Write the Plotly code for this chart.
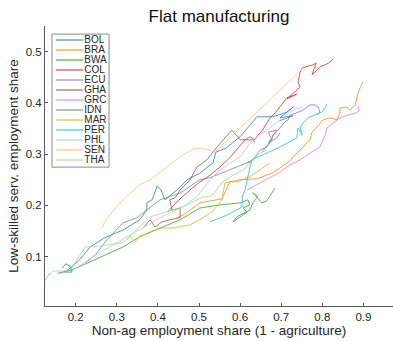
import plotly.graph_objects as go

# Country codes and line colours
countries = ["BOL", "BRA", "BWA", "COL", "ECU", "GHA", "GRC", "IDN", "MAR", "PER", "PHL", "SEN", "THA"]
colors = ["#1f77b4", "#ff7f0e", "#2ca02c", "#d62728", "#9467bd", "#8c564b", "#e377c2",
          "#7f7f7f", "#bcbd22", "#17becf", "#aec7e8", "#ffbb78", "#98df8a"]

# Non-ag employment share (x) and low-skilled services employment share (y) per country
bol_x = [0.167, 0.176, 0.186, 0.191, 0.171, 0.181, 0.210, 0.235, 0.271, 0.315, 0.356, 0.373, 0.373, 0.386, 0.393, 0.398,
         0.408, 0.417, 0.446, 0.471, 0.502, 0.534, 0.541, 0.566, 0.600, 0.641, 0.680, 0.714, 0.729, 0.697, 0.729, 0.695]
bol_y = [0.078, 0.086, 0.082, 0.070, 0.070, 0.074, 0.094, 0.119, 0.137, 0.152, 0.172, 0.191, 0.205, 0.211, 0.226, 0.238,
         0.230, 0.211, 0.230, 0.250, 0.263, 0.283, 0.304, 0.312, 0.334, 0.373, 0.373, 0.382, 0.392, 0.371, 0.375, 0.365]

bra_x = [0.446, 0.461, 0.502, 0.556, 0.575, 0.600, 0.641, 0.678, 0.704, 0.721, 0.738, 0.746, 0.770, 0.775, 0.787, 0.802,
         0.819, 0.836, 0.843, 0.843, 0.860, 0.867, 0.880, 0.887, 0.892, 0.899]
bra_y = [0.176, 0.181, 0.205, 0.213, 0.246, 0.250, 0.252, 0.263, 0.277, 0.287, 0.302, 0.308, 0.328, 0.343, 0.353, 0.367,
         0.371, 0.367, 0.380, 0.390, 0.392, 0.386, 0.396, 0.419, 0.429, 0.441]

bwa_x = [0.157, 0.191, 0.235, 0.315, 0.356, 0.405, 0.454, 0.502, 0.551, 0.600, 0.619, 0.624, 0.607, 0.617, 0.583, 0.592,
         0.624, 0.631, 0.643, 0.631, 0.653, 0.665, 0.685]
bwa_y = [0.068, 0.074, 0.090, 0.119, 0.139, 0.156, 0.172, 0.195, 0.201, 0.205, 0.211, 0.201, 0.195, 0.187, 0.168, 0.178,
         0.191, 0.205, 0.217, 0.225, 0.205, 0.209, 0.234]

col_x = [0.424, 0.446, 0.478, 0.502, 0.527, 0.551, 0.575, 0.600, 0.612, 0.624, 0.636, 0.643, 0.653, 0.673, 0.687, 0.704,
         0.714, 0.738, 0.714, 0.746, 0.741, 0.746, 0.751, 0.765, 0.777, 0.785, 0.775, 0.787, 0.794, 0.811, 0.819, 0.826]
col_y = [0.187, 0.207, 0.230, 0.246, 0.259, 0.275, 0.293, 0.318, 0.328, 0.334, 0.328, 0.337, 0.345, 0.371, 0.382, 0.400,
         0.410, 0.417, 0.408, 0.431, 0.441, 0.460, 0.468, 0.472, 0.474, 0.478, 0.455, 0.464, 0.470, 0.476, 0.480, 0.486]

ecu_x = [0.653, 0.668, 0.678, 0.668, 0.690, 0.678, 0.697, 0.709, 0.717, 0.721, 0.741, 0.753, 0.770, 0.782, 0.790, 0.794, 0.787]
ecu_y = [0.304, 0.318, 0.328, 0.343, 0.347, 0.334, 0.351, 0.363, 0.367, 0.376, 0.382, 0.386, 0.396, 0.396, 0.392, 0.382, 0.376]

gha_x = [0.364, 0.381, 0.393, 0.410, 0.429, 0.454, 0.454, 0.434, 0.429, 0.442, 0.454, 0.478, 0.495, 0.519, 0.544, 0.563,
         0.580, 0.600, 0.612, 0.631, 0.636]
gha_y = [0.156, 0.172, 0.158, 0.168, 0.172, 0.176, 0.195, 0.191, 0.211, 0.215, 0.230, 0.250, 0.275, 0.289, 0.314, 0.332,
         0.347, 0.328, 0.328, 0.328, 0.322]

grc_x = [0.617, 0.648, 0.697, 0.721, 0.746, 0.770, 0.794, 0.807, 0.811, 0.826, 0.843, 0.862, 0.880, 0.889, 0.887]
grc_y = [0.230, 0.244, 0.265, 0.279, 0.289, 0.302, 0.314, 0.337, 0.351, 0.361, 0.371, 0.376, 0.380, 0.384, 0.394]

idn_x = [0.223, 0.247, 0.276, 0.315, 0.349, 0.373, 0.405, 0.454, 0.502, 0.527, 0.575, 0.607, 0.629, 0.617, 0.631, 0.648,
         0.665, 0.680, 0.668, 0.690, 0.697]
idn_y = [0.088, 0.103, 0.133, 0.166, 0.176, 0.191, 0.211, 0.224, 0.250, 0.254, 0.269, 0.279, 0.287, 0.283, 0.289, 0.308,
         0.314, 0.334, 0.322, 0.332, 0.342]

mar_x = [0.325, 0.332, 0.344, 0.356, 0.381, 0.405, 0.437, 0.478, 0.502, 0.519, 0.534, 0.556, 0.563, 0.575, 0.592, 0.624,
         0.648, 0.673]
mar_y = [0.133, 0.140, 0.129, 0.139, 0.148, 0.156, 0.156, 0.162, 0.172, 0.181, 0.189, 0.211, 0.244, 0.246, 0.246, 0.256,
         0.269, 0.283]

per_x = [0.527, 0.568, 0.605, 0.605, 0.612, 0.617, 0.624, 0.629, 0.665, 0.697, 0.729, 0.738, 0.741, 0.751, 0.746, 0.753,
         0.765, 0.782, 0.799, 0.807, 0.811]
per_y = [0.168, 0.181, 0.197, 0.217, 0.230, 0.250, 0.275, 0.289, 0.302, 0.314, 0.328, 0.332, 0.351, 0.337, 0.353, 0.361,
         0.371, 0.376, 0.382, 0.390, 0.398]

phl_x = [0.155, 0.191, 0.247, 0.332, 0.417, 0.459, 0.495, 0.527, 0.551, 0.600, 0.631, 0.665, 0.697, 0.729, 0.753]
phl_y = [0.066, 0.072, 0.103, 0.142, 0.181, 0.197, 0.217, 0.250, 0.269, 0.295, 0.328, 0.347, 0.367, 0.386, 0.392]

sen_x = [0.264, 0.271, 0.283, 0.303, 0.327, 0.356, 0.381, 0.417, 0.454, 0.490, 0.515, 0.539, 0.544, 0.753]
sen_y = [0.156, 0.168, 0.181, 0.201, 0.220, 0.240, 0.250, 0.273, 0.295, 0.312, 0.310, 0.304, 0.308, 0.468]

tha_x = [0.125, 0.137, 0.130, 0.145, 0.186, 0.223, 0.259, 0.315, 0.381, 0.461, 0.510, 0.527, 0.539, 0.551, 0.558, 0.583,
         0.607, 0.624, 0.648, 0.665]
tha_y = [0.053, 0.068, 0.060, 0.072, 0.072, 0.119, 0.121, 0.127, 0.178, 0.197, 0.217, 0.217, 0.226, 0.240, 0.246, 0.259,
         0.269, 0.283, 0.302, 0.308]

xs = [bol_x, bra_x, bwa_x, col_x, ecu_x, gha_x, grc_x, idn_x, mar_x, per_x, phl_x, sen_x, tha_x]
ys = [bol_y, bra_y, bwa_y, col_y, ecu_y, gha_y, grc_y, idn_y, mar_y, per_y, phl_y, sen_y, tha_y]

x_ticks = [0.2, 0.3, 0.4, 0.5, 0.6, 0.7, 0.8, 0.9]
y_ticks = [0.1, 0.2, 0.3, 0.4, 0.5]

FONT = "Liberation Sans, Arial, sans-serif"
TXT = "#262626"
AX = "#5a5a5a"

fig = go.Figure()
for name, c, x, y in zip(countries, colors, xs, ys):
    fig.add_trace(go.Scatter(x=x, y=y, mode="lines", name=name, opacity=0.85,
                             line=dict(color=c, width=0.9), showlegend=False))

# Boxed legend in the upper-left corner: frame and sample lines as shapes,
# labels as a text-only trace on an overlay axis pair spanning the plot area
shapes = [dict(type="rect", xref="paper", yref="paper", x0=0.020, x1=0.184, y0=0.496, y1=0.971,
               line=dict(color="#8a8a8a", width=1), fillcolor="white", layer="below")]
row0, step = 0.950, 10 / 280
rows = [row0 - i * step for i in range(len(countries))]
for c, yy in zip(colors, rows):
    shapes.append(dict(type="line", xref="paper", yref="paper", x0=0.031, x1=0.110, y0=yy, y1=yy,
                       line=dict(color=c, width=1), layer="above"))

fig.add_trace(go.Scatter(x=[0.113] * len(countries), y=rows, text=countries, mode="text",
                         textposition="middle right", textfont=dict(size=10, color=TXT, family=FONT),
                         xaxis="x2", yaxis="y2", showlegend=False, hoverinfo="skip"))

fig.update_layout(
    width=393, height=341,
    margin=dict(l=45, r=0, t=26, b=35),
    paper_bgcolor="white", plot_bgcolor="white",
    title=dict(text="Flat manufacturing", x=0.5, xref="paper", y=0.953, yref="container",
               xanchor="center", yanchor="middle", font=dict(size=17, color="#111", family=FONT)),
    font=dict(family=FONT, color=TXT, size=11),
    shapes=shapes,
    xaxis=dict(range=[0.1253, 0.972], tickvals=x_ticks, ticktext=[f"{v:.1f}" for v in x_ticks],
               showgrid=False, zeroline=False, showline=True, linecolor=AX, linewidth=1,
               ticks="inside", ticklen=3, tickcolor=AX, tickfont=dict(size=11.5, color=TXT),
               title=dict(text="Non-ag employment share (1 - agriculture)", font=dict(size=13.5, color=TXT), standoff=3)),
    yaxis=dict(range=[0.0038, 0.5501], tickvals=y_ticks, ticktext=[f"{v:.1f}" for v in y_ticks],
               showgrid=False, zeroline=False, showline=True, linecolor=AX, linewidth=1,
               ticks="inside", ticklen=3, tickcolor=AX, tickfont=dict(size=11.5, color=TXT),
               title=dict(text="Low-skilled serv. employment share", font=dict(size=13.5, color=TXT), standoff=3)),
    xaxis2=dict(range=[0, 1], overlaying="x", anchor="y2", visible=False, fixedrange=True),
    yaxis2=dict(range=[0, 1], overlaying="y", anchor="x2", visible=False, fixedrange=True),
)

fig.write_html("out.html")
